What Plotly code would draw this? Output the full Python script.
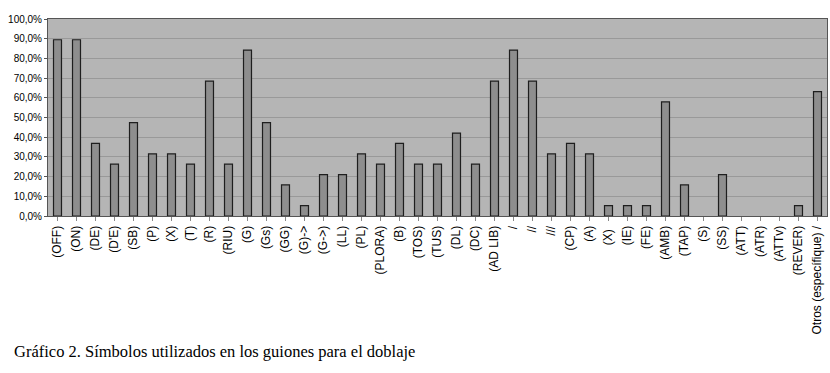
import plotly.graph_objects as go

categories = ["(OFF)", "(ON)", "(DE)", "(D'E)", "(SB)", "(P)", "(X)", "(T)", "(R)", "(RIU)",
              "(G)", "(Gs)", "(GG)", "(G)->", "(G->)", "(LL)", "(PL)", "(PLORA)", "(B)", "(TOS)",
              "(TUS)", "(DL)", "(DC)", "(AD LIB)", "/", "//", "///", "(CP)", "(A)", "(X) ",
              "(IE)", "(FE)", "(AMB)", "(TAP)", "(S)", "(SS)", "(ATT)", "(ATR)", "(ATTv)", "(REVER)",
              "Otros (específique) /"]
counts = [17, 17, 7, 5, 9, 6, 6, 5, 13, 5,
          16, 9, 3, 1, 4, 4, 6, 5, 7, 5,
          5, 8, 5, 13, 16, 13, 6, 7, 6, 1,
          1, 1, 11, 3, 0, 4, 0, 0, 0, 1,
          12]
total = 19
values = [c / total for c in counts]
y_ticks = [i / 10 for i in range(11)]
caption = "Gráfico 2. Símbolos utilizados en los guiones para el doblaje"

line_widths = [1.2 if v > 0 else 0 for v in values]

fig = go.Figure(go.Bar(
    x=list(range(len(categories))), y=values,
    marker=dict(color="#8e8e8e", line=dict(color="#1e1e1e", width=line_widths)),
    width=0.42,
))

fig.update_layout(
    width=830, height=373,
    margin=dict(l=48, r=3, t=19, b=157),
    paper_bgcolor="white", plot_bgcolor="#b5b5b5",
    separators=",.",
    showlegend=False,
    font=dict(family="Liberation Sans, Arial", size=11, color="black"),
)
fig.update_xaxes(
    tickmode="array", tickvals=list(range(len(categories))), ticktext=categories,
    tickangle=-90, range=[-0.5, len(categories) - 0.5],
    showgrid=False, ticks="outside", ticklen=4, tickcolor="#888888",
    showline=True, linecolor="#555555", linewidth=1, mirror=True,
    tickfont=dict(size=12),
)
fig.update_yaxes(
    range=[0, 1], tickvals=y_ticks, tickformat=".1%",
    showgrid=True, gridcolor="#999999", gridwidth=1,
    ticks="outside", ticklen=3, tickcolor="#555555",
    showline=True, linecolor="#555555", linewidth=1, mirror=True,
    zeroline=False, tickfont=dict(size=10),
)
fig.add_annotation(
    text=caption, xref="paper", yref="paper", x=-48 / 777, y=-(352 - 216) / 197,
    xanchor="left", yanchor="middle", showarrow=False, xshift=12,
    font=dict(family="Liberation Serif, serif", size=16.5, color="black"),
)

fig.write_html("out.html")
